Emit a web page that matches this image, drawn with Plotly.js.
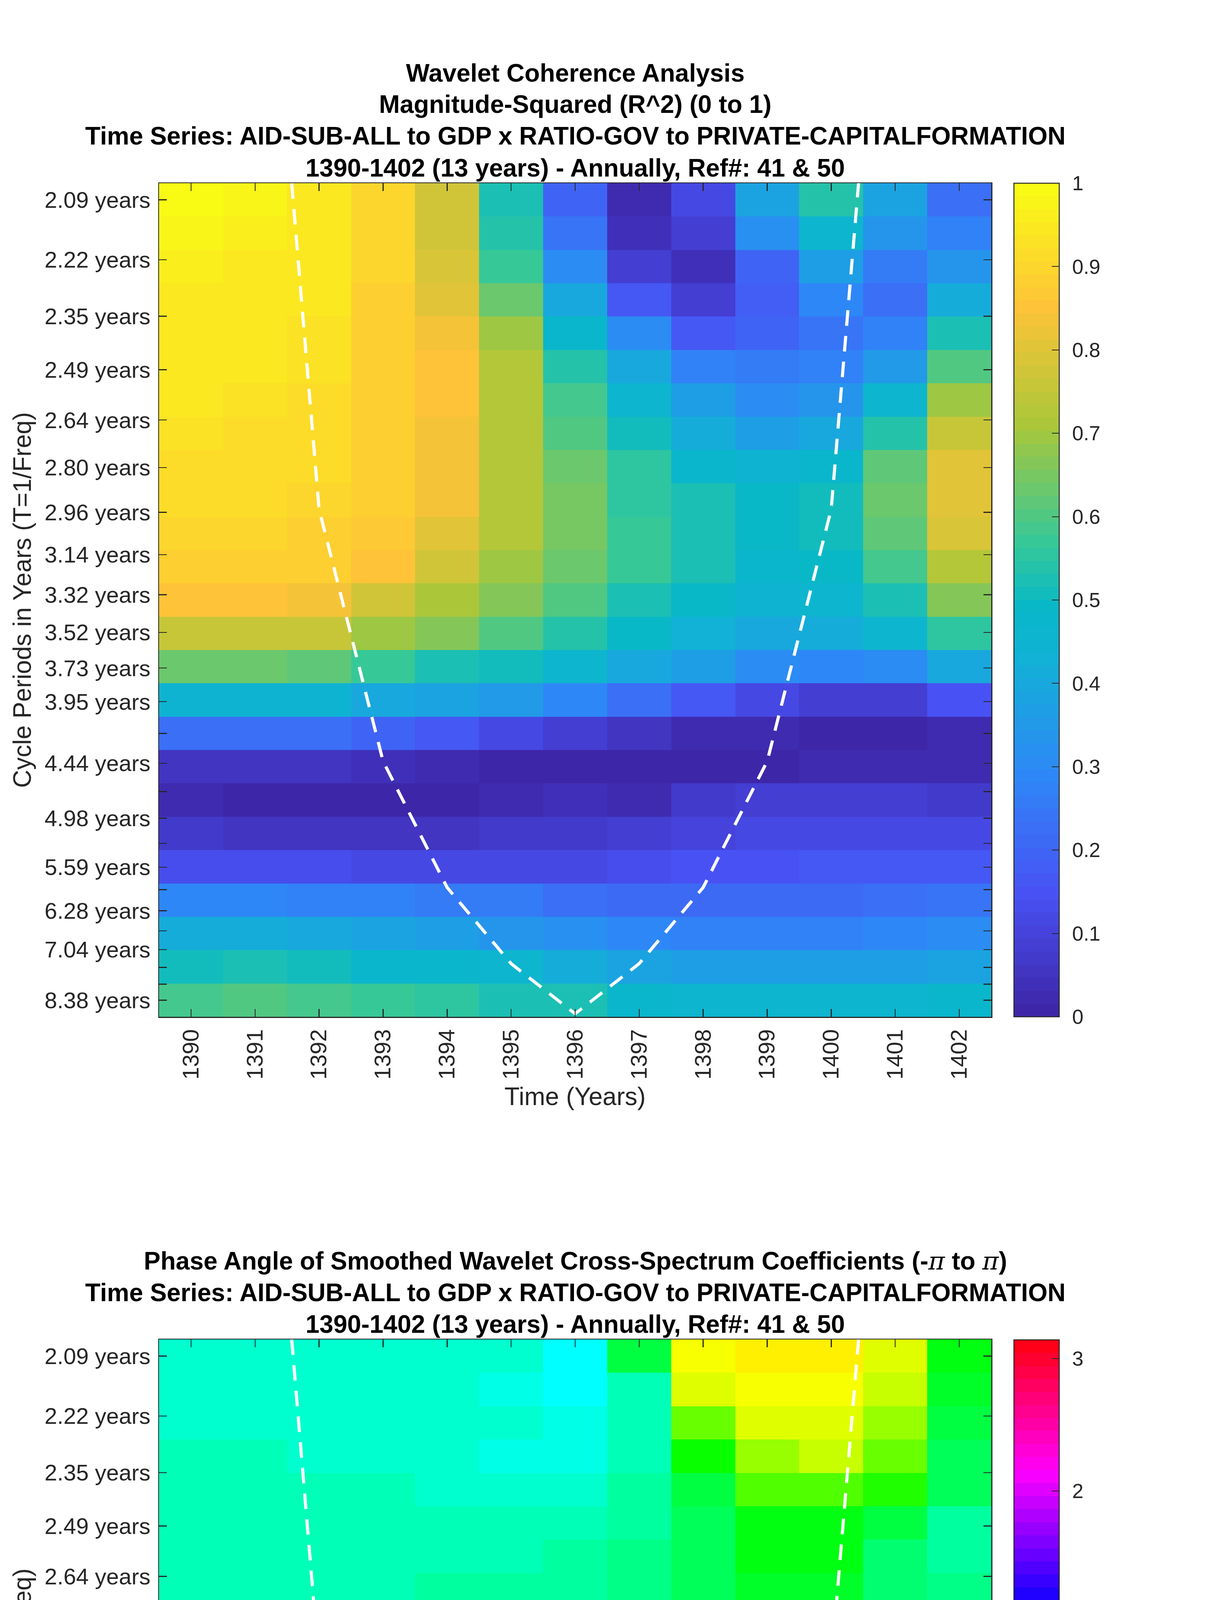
<!DOCTYPE html>
<html>
<head>
<meta charset="utf-8">
<script src="https://cdn.plot.ly/plotly-3.0.1.min.js"></script>
<style>html,body{margin:0;padding:0;background:#fff;}#chart{width:3125px;height:6252px;}</style>
</head>
<body>
<div id="chart"></div>
<script>
// ---------------- data ----------------
const years = [1390,1391,1392,1393,1394,1395,1396,1397,1398,1399,1400,1401,1402];
const yearLabels = ["1390","1391","1392","1393","1394","1395","1396","1397","1398","1399","1400","1401","1402"];

// cycle periods (years), one per row, top to bottom
const periods = [2.0945,2.2191,2.3510,2.4908,2.6389,2.7958,2.9621,3.1382,3.3248,3.5225,3.7320,3.9539,
                 4.1890,4.4381,4.7020,4.9816,5.2778,5.5917,5.9242,6.2764,6.6496,7.0451,7.4640,7.9078,8.3780];
const periodLabels = ["2.09 years","2.22 years","2.35 years","2.49 years","2.64 years","2.80 years","2.96 years",
                      "3.14 years","3.32 years","3.52 years","3.73 years","3.95 years","","4.44 years","",
                      "4.98 years","","5.59 years","","6.28 years","","7.04 years","","","8.38 years"];

// magnitude-squared coherence, rows = periods (top to bottom), cols = years
const coherence = [
[0.99,0.97,0.95,0.90,0.78,0.52,0.20,0.03,0.12,0.38,0.54,0.39,0.23],
[0.97,0.96,0.95,0.90,0.78,0.54,0.24,0.04,0.09,0.32,0.46,0.33,0.28],
[0.96,0.95,0.94,0.90,0.79,0.57,0.31,0.08,0.04,0.20,0.36,0.25,0.33],
[0.95,0.95,0.94,0.89,0.80,0.64,0.40,0.16,0.09,0.18,0.29,0.23,0.42],
[0.95,0.94,0.93,0.89,0.83,0.69,0.48,0.30,0.17,0.19,0.24,0.27,0.52],
[0.94,0.94,0.93,0.89,0.85,0.72,0.54,0.40,0.27,0.26,0.28,0.35,0.60],
[0.94,0.93,0.92,0.89,0.85,0.73,0.58,0.46,0.36,0.30,0.33,0.46,0.70],
[0.93,0.92,0.92,0.89,0.84,0.73,0.60,0.51,0.42,0.37,0.40,0.54,0.76],
[0.92,0.92,0.91,0.89,0.84,0.73,0.64,0.55,0.47,0.45,0.47,0.61,0.80],
[0.91,0.91,0.90,0.88,0.83,0.73,0.65,0.56,0.52,0.49,0.51,0.64,0.80],
[0.90,0.90,0.89,0.87,0.80,0.73,0.65,0.57,0.53,0.49,0.51,0.61,0.79],
[0.89,0.89,0.88,0.85,0.77,0.69,0.63,0.57,0.52,0.48,0.49,0.58,0.72],
[0.85,0.85,0.83,0.78,0.71,0.66,0.60,0.53,0.49,0.45,0.46,0.53,0.66],
[0.76,0.76,0.75,0.70,0.66,0.60,0.54,0.49,0.43,0.40,0.41,0.46,0.55],
[0.64,0.64,0.62,0.57,0.53,0.50,0.46,0.40,0.36,0.30,0.29,0.31,0.40],
[0.45,0.45,0.45,0.40,0.39,0.35,0.29,0.22,0.17,0.12,0.09,0.09,0.15],
[0.22,0.22,0.22,0.20,0.17,0.12,0.09,0.06,0.03,0.02,0.00,0.00,0.02],
[0.05,0.05,0.05,0.04,0.03,0.00,0.00,0.00,0.00,0.01,0.02,0.02,0.02],
[0.03,0.01,0.01,0.01,0.01,0.02,0.04,0.03,0.07,0.08,0.08,0.08,0.07],
[0.07,0.06,0.06,0.06,0.06,0.07,0.07,0.08,0.10,0.11,0.12,0.12,0.12],
[0.14,0.13,0.13,0.12,0.12,0.12,0.12,0.13,0.15,0.15,0.16,0.16,0.17],
[0.29,0.29,0.28,0.27,0.26,0.25,0.23,0.21,0.21,0.21,0.21,0.22,0.24],
[0.41,0.41,0.40,0.39,0.37,0.34,0.32,0.29,0.28,0.28,0.28,0.29,0.31],
[0.50,0.52,0.50,0.48,0.48,0.46,0.42,0.39,0.37,0.36,0.36,0.37,0.39],
[0.58,0.60,0.59,0.57,0.55,0.53,0.52,0.47,0.46,0.46,0.46,0.46,0.47]
];

// phase angle (radians), rows = periods (top to bottom), cols = years
const phase = [
[-0.17,-0.17,-0.17,-0.17,-0.17,-0.10,0.00,-0.74,-2.01,-2.11,-2.11,-1.91,-0.89],
[-0.17,-0.17,-0.17,-0.17,-0.17,-0.08,0.00,-0.27,-1.91,-2.01,-2.01,-1.82,-0.83],
[-0.17,-0.17,-0.17,-0.17,-0.17,-0.10,-0.04,-0.22,-1.42,-1.91,-1.91,-1.62,-0.70],
[-0.25,-0.25,-0.17,-0.17,-0.17,-0.08,-0.08,-0.25,-1.05,-1.59,-1.77,-1.40,-0.64],
[-0.27,-0.27,-0.27,-0.27,-0.15,-0.15,-0.15,-0.35,-0.76,-1.29,-1.37,-1.13,-0.60],
[-0.27,-0.27,-0.27,-0.27,-0.22,-0.22,-0.22,-0.39,-0.64,-0.95,-0.97,-0.76,-0.39],
[-0.29,-0.29,-0.29,-0.29,-0.22,-0.22,-0.33,-0.43,-0.68,-0.89,-0.89,-0.52,-0.39],
[-0.29,-0.29,-0.29,-0.29,-0.39,-0.39,-0.39,-0.48,-0.68,-0.80,-0.80,-0.52,-0.43],
[-0.39,-0.39,-0.39,-0.39,-0.39,-0.39,-0.52,-0.60,-0.74,-0.74,-0.74,-0.52,-0.45],
[-0.39,-0.39,-0.39,-0.39,-0.39,-0.39,-0.52,-0.62,-0.74,-0.74,-0.74,-0.52,-0.45],
[-0.39,-0.39,-0.39,-0.39,-0.39,-0.39,-0.52,-0.62,-0.74,-0.74,-0.74,-0.37,-0.33],
[-0.39,-0.39,-0.39,-0.39,-0.39,-0.48,-0.48,-0.60,-0.74,-0.74,-0.74,-0.35,-0.35],
[-0.39,-0.39,-0.39,-0.39,-0.39,-0.48,-0.48,-0.60,-0.74,-0.74,-0.74,-0.35,-0.35],
[-0.39,-0.39,-0.39,-0.48,-0.48,-0.48,-0.60,-0.60,-0.74,-0.74,-0.74,-0.35,-0.35],
[-0.39,-0.39,-0.48,-0.48,-0.48,-0.52,-0.64,-0.68,-0.80,-0.80,-0.80,-0.35,-0.35],
[-0.39,-0.48,-0.48,-0.48,-0.56,-0.60,-0.68,-0.76,-0.89,-0.85,-0.80,-0.39,-0.33],
[-0.43,-0.43,-0.48,-0.56,-0.56,-0.64,-0.76,-0.97,-1.05,-1.17,-1.01,-0.17,-0.15],
[0.00,-0.18,-0.26,-0.35,-0.48,-0.72,-1.25,-2.65,2.93,2.69,2.41,2.08,1.54],
[1.36,1.26,1.37,1.50,1.75,2.03,2.24,2.24,2.41,2.28,2.17,2.03,1.90],
[1.78,1.78,1.90,2.08,2.15,2.31,2.31,2.41,2.41,2.28,2.28,2.15,2.08],
[2.08,2.08,2.08,2.08,2.18,2.28,2.28,2.41,2.41,2.26,2.26,2.15,2.15],
[2.15,2.15,2.15,2.15,2.24,2.24,2.24,2.41,2.41,2.26,2.26,2.15,2.15],
[2.17,2.17,2.26,2.26,2.26,2.26,2.26,2.37,2.26,2.26,2.26,2.22,2.17],
[2.28,2.28,2.28,2.28,2.28,2.28,2.28,2.30,2.28,2.28,2.28,2.28,2.28],
[2.28,2.28,2.28,2.28,2.28,2.28,2.28,2.28,2.28,2.28,2.28,2.28,2.28]
];

// cone of influence (period in years) at each interior year
const coiYears = [1391,1392,1393,1394,1395,1396,1397,1398,1399,1400,1401];
const coiPeriods = [1.47,2.95,4.42,5.89,7.37,8.83,7.37,5.89,4.42,2.95,1.47];

const PI_SPAN = "<span style=\"font-family:'DejaVu Serif','Liberation Serif',serif;font-weight:normal\"><i>π</i></span>";
const titleTop = ["Wavelet Coherence Analysis",
                  "Magnitude-Squared (R^2) (0 to 1)",
                  "Time Series: AID-SUB-ALL to GDP x RATIO-GOV to PRIVATE-CAPITALFORMATION",
                  "1390-1402 (13 years) - Annually, Ref#: 41 & 50"];
const titleBottom = ["Phase Angle of Smoothed Wavelet Cross-Spectrum Coefficients (-" + PI_SPAN + " to " + PI_SPAN + ")",
                     "Time Series: AID-SUB-ALL to GDP x RATIO-GOV to PRIVATE-CAPITALFORMATION",
                     "1390-1402 (13 years) - Annually, Ref#: 41 & 50"];
const xTitle = "Time (Years)";
const yTitle = "Cycle Periods in Years (T=1/Freq)";
const cohTicks = [0,0.1,0.2,0.3,0.4,0.5,0.6,0.7,0.8,0.9,1];
const cohTickText = ["0","0.1","0.2","0.3","0.4","0.5","0.6","0.7","0.8","0.9","1"];
const phaseTicks = [-3,-2,-1,0,1,2,3];
const phaseTickText = ["-3","-2","-1","0","1","2","3"];

// ---------------- styling helpers ----------------
const W = 3125, H = 6252;
const PX = p => p / W, PY = p => 1 - p / H;
const FONT = "Liberation Sans, Arial, Helvetica, sans-serif";
const AX = "#262626";
const PAD = "\u2009\u2009";   // gap between colorbar and its labels

// rows drawn uniformly in frequency between first and last period (imagesc style)
const fTop = 1 / periods[0], fBot = 1 / periods[periods.length - 1];
const nR = periods.length;
const rowFreq = periods.map((p, k) => fTop - k * (fTop - fBot) / (nR - 1));
const half = (fTop - fBot) / (nR - 1) / 2;
const tickFreq = periods.map(p => 1 / p);
const coiFreq = coiPeriods.map(p => 1 / p);

function discrete(cols) {
  const cs = [], n = cols.length;
  cols.forEach((c, i) => { cs.push([i / n, c]); cs.push([(i + 1) / n, c]); });
  return cs;
}
// parula (64 levels) from key colours
const parKeys = [[0,[62,38,168]],[1/7,[72,82,244]],[2/7,[46,135,247]],[3/7,[18,177,214]],[0.49,[8,184,200]],
                 [4/7,[55,200,151]],[5/7,[171,199,57]],[6/7,[254,195,56]],[1,[249,251,21]]];
function parula(t) {
  for (let i = 0; i < parKeys.length - 1; i++) {
    const [t0, c0] = parKeys[i], [t1, c1] = parKeys[i + 1];
    if (t <= t1) {
      const f = (t - t0) / (t1 - t0);
      return "rgb(" + c0.map((v, j) => Math.round(v + f * (c1[j] - v))).join(",") + ")";
    }
  }
  return "rgb(249,251,21)";
}
const parCols = []; for (let i = 0; i < 64; i++) parCols.push(parula(i / 63));
function hsv(h) {
  const i = Math.floor(h * 6), f = h * 6 - i;
  const q = 1 - f, t = f;
  const m = [[1,t,0],[q,1,0],[0,1,t],[0,q,1],[t,0,1],[1,0,q]][i % 6];
  return "rgb(" + m.map(v => Math.round(v * 255)).join(",") + ")";
}
const hsvCols = []; for (let i = 0; i < 64; i++) hsvCols.push(hsv(i / 64));

const xDomain = [PX(407), PX(2537)];
const topDomain = [PY(2603), PY(469)];
const botDomain = [PY(5564), PY(3429)];

function xaxis(anchor) {
  return {domain: xDomain, anchor: anchor, range: [years[0] - 0.5, years[years.length - 1] + 0.5],
    tickvals: years, ticktext: yearLabels, tickangle: -90, ticks: "inside", ticklen: 20, tickwidth: 2.5,
    tickcolor: AX, showline: true, linecolor: AX, linewidth: 2.5, mirror: "ticks", showgrid: false, zeroline: false,
    tickfont: {family: FONT, size: 58, color: AX}, ticklabelstandoff: 6};
}
function yaxis(anchor, domain) {
  return {domain: domain, anchor: anchor, range: [fBot - half, fTop + half],
    tickvals: tickFreq, ticktext: periodLabels, ticks: "inside", ticklen: 20, tickwidth: 2.5,
    tickcolor: AX, showline: true, linecolor: AX, linewidth: 2.5, mirror: "ticks", showgrid: false, zeroline: false,
    tickfont: {family: FONT, size: 58, color: AX}, ticklabelstandoff: 8};
}
function cbar(yc, tv, tt) {
  return {x: PX(2595), xanchor: "left", xpad: 0, ypad: 0, thickness: 116, thicknessmode: "pixels",
    len: 2134, lenmode: "pixels", y: yc, yanchor: "middle", outlinewidth: 2.5, outlinecolor: AX,
    ticks: "inside", ticklen: 20, tickwidth: 2, tickcolor: AX, tickvals: tv, ticktext: tt.map(s => PAD + s),
    tickfont: {family: FONT, size: 52, color: AX}};
}

const coiLine = {color: "#ffffff", width: 8, dash: "40px,26px"};
const traces = [
  {type: "heatmap", x: years, y: rowFreq, z: coherence, xaxis: "x", yaxis: "y", zmin: 0, zmax: 1,
   colorscale: discrete(parCols), zsmooth: false, hoverinfo: "skip",
   colorbar: cbar(PY((469 + 2603) / 2), cohTicks, cohTickText)},
  {type: "scatter", mode: "lines", x: coiYears, y: coiFreq, xaxis: "x", yaxis: "y",
   line: coiLine, hoverinfo: "skip", showlegend: false},
  {type: "heatmap", x: years, y: rowFreq, z: phase, xaxis: "x2", yaxis: "y2", zmin: -Math.PI, zmax: Math.PI,
   colorscale: discrete(hsvCols), zsmooth: false, hoverinfo: "skip",
   colorbar: cbar(PY((3429 + 5564) / 2), phaseTicks, phaseTickText)},
  {type: "scatter", mode: "lines", x: coiYears, y: coiFreq, xaxis: "x2", yaxis: "y2",
   line: coiLine, hoverinfo: "skip", showlegend: false}
];

const ann = [];
const cx = (407 + 2537) / 2;
const topCenters = [187, 267, 348, 430];
titleTop.forEach((t, i) => ann.push({text: "<b>" + t + "</b>", x: PX(cx), y: PY(topCenters[i]), xref: "paper", yref: "paper",
  xanchor: "center", yanchor: "middle", showarrow: false, font: {family: FONT, size: 64, color: "#000"}}));
const botCenters = [3228, 3309, 3390];
titleBottom.forEach((t, i) => ann.push({text: "<b>" + t + "</b>", x: PX(cx), y: PY(botCenters[i]), xref: "paper", yref: "paper",
  xanchor: "center", yanchor: "middle", showarrow: false, font: {family: FONT, size: 64, color: "#000"}}));
[[2807, 1536], [5768, 4496]].forEach(([xt, yc]) => {
  ann.push({text: xTitle, x: PX(cx), y: PY(xt), xref: "paper", yref: "paper", xanchor: "center", yanchor: "middle",
    showarrow: false, font: {family: FONT, size: 64, color: AX}});
  ann.push({text: yTitle, x: PX(57), y: PY(yc), xref: "paper", yref: "paper", xanchor: "center", yanchor: "middle",
    textangle: -90, showarrow: false, font: {family: FONT, size: 64, color: AX}});
});

const layout = {
  width: W, height: H, margin: {l: 0, r: 0, t: 0, b: 0}, paper_bgcolor: "#fff", plot_bgcolor: "#fff",
  showlegend: false,
  xaxis: xaxis("y"), yaxis: yaxis("x", topDomain),
  xaxis2: xaxis("y2"), yaxis2: yaxis("x2", botDomain),
  annotations: ann
};
Plotly.newPlot("chart", traces, layout, {displayModeBar: false, staticPlot: true});
</script>
</body>
</html>
